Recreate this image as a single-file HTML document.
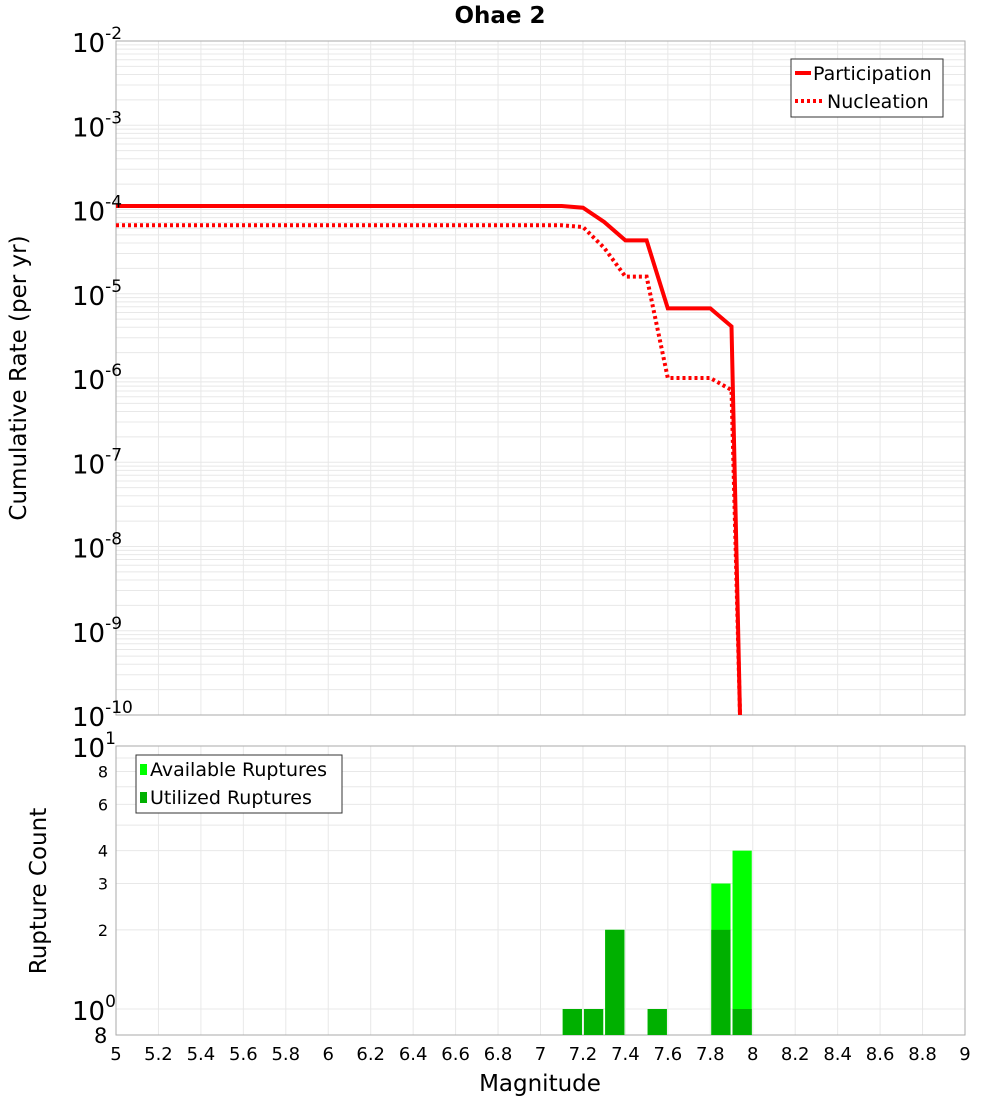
<!DOCTYPE html>
<html><head><meta charset="utf-8"><style>
body{margin:0;background:#fff;font-family:"Liberation Sans","DejaVu Sans",sans-serif}
svg text{font-family:"DejaVu Sans","Liberation Sans",sans-serif}
</style></head><body>
<svg id="c" width="1000" height="1100" xmlns="http://www.w3.org/2000/svg"></svg>
<script>
const mags=[5.0,5.1,5.2,5.3,5.4,5.5,5.6,5.7,5.8,5.9,6.0,6.1,6.2,6.3,6.4,6.5,6.6,6.7,6.8,6.9,7.0,7.1,7.2,7.3,7.4,7.5,7.6,7.7,7.8,7.9,7.94];
const participation=[1.1e-4,1.1e-4,1.1e-4,1.1e-4,1.1e-4,1.1e-4,1.1e-4,1.1e-4,1.1e-4,1.1e-4,1.1e-4,1.1e-4,1.1e-4,1.1e-4,1.1e-4,1.1e-4,1.1e-4,1.1e-4,1.1e-4,1.1e-4,1.1e-4,1.1e-4,1.05e-4,7.1e-5,4.3e-5,4.3e-5,6.7e-6,6.7e-6,6.7e-6,4.1e-6,1e-10];
const nucleation=[6.5e-5,6.5e-5,6.5e-5,6.5e-5,6.5e-5,6.5e-5,6.5e-5,6.5e-5,6.5e-5,6.5e-5,6.5e-5,6.5e-5,6.5e-5,6.5e-5,6.5e-5,6.5e-5,6.5e-5,6.5e-5,6.5e-5,6.5e-5,6.5e-5,6.5e-5,6.2e-5,3.5e-5,1.6e-5,1.6e-5,1.0e-6,1.0e-6,1.0e-6,7.2e-7,1e-10];
const binCenters=[7.15,7.25,7.35,7.55,7.85,7.95];
const available=[1,1,2,1,3,4];
const utilized=[1,1,2,1,2,1];
const xTicks=[5,5.2,5.4,5.6,5.8,6,6.2,6.4,6.6,6.8,7,7.2,7.4,7.6,7.8,8,8.2,8.4,8.6,8.8,9];
const topExps=[-2,-3,-4,-5,-6,-7,-8,-9,-10];
const botTicks=[2,3,4,6,8];

const S=document.getElementById('c'),NS='http://www.w3.org/2000/svg';
function el(t,a,p){const e=document.createElementNS(NS,t);for(const k in a)e.setAttribute(k,a[k]);(p||S).appendChild(e);return e;}
const L=116,R=965,T1=41,B1=715,T2=746,B2=1035;
const X=m=>L+(m-5)/4*(R-L);
const Y1=v=>T1+(-2-Math.log10(v))*(B1-T1)/8;
const Y2=v=>1009-Math.log10(v)*263;

for(let e=-10;e<-2;e++)for(let k=1;k<10;k++){const y=Y1(k*Math.pow(10,e));const g=el('line',{x1:L,x2:R,y1:y,y2:y,stroke:'#e8e8e8','stroke-width':1});}
xTicks.forEach(m=>{el('line',{x1:X(m),x2:X(m),y1:T1,y2:B1,stroke:'#e8e8e8'});el('line',{x1:X(m),x2:X(m),y1:T2,y2:B2,stroke:'#e8e8e8'});});
for(let v=1;v<=10;v++){const y=Y2(v);if(y>=T2&&y<=B2)el('line',{x1:L,x2:R,y1:y,y2:y,stroke:'#e8e8e8'});}
el('rect',{x:L,y:T1,width:R-L,height:B1-T1,fill:'none',stroke:'#aaa',});
el('rect',{x:L,y:T2,width:R-L,height:B2-T2,fill:'none',stroke:'#aaa',});

function path(arr){return arr.map((v,i)=>(i?'L':'M')+X(mags[i]).toFixed(1)+','+Math.min(Y1(v),B1).toFixed(1)).join(' ');}
const p1=el('path',{d:path(participation),fill:'none',stroke:'#ff0000','stroke-width':4});

const p2=el('path',{d:path(nucleation),fill:'none',stroke:'#ff0000','stroke-width':4,'stroke-dasharray':'3,3'});


const bw=X(5.1)-X(5)-2;
binCenters.forEach((c,i)=>{
 const x=X(c-0.05)+1;
 const ya=Y2(available[i]);const a=el('rect',{x:x,y:ya,width:bw,height:B2-ya,fill:'#00ff00'});
 
 const yu=Y2(utilized[i]);const u=el('rect',{x:x,y:yu,width:bw,height:B2-yu,fill:'#00b000'});
 
});

topExps.forEach(e=>{const y=Y1(Math.pow(10,e));const t=el('text',{x:72,y:y+11,'font-size':26,fill:'#000'});t.innerHTML='10<tspan dy="-13" font-size="17">'+e+'</tspan>';});
botTicks.forEach(v=>{const t=el('text',{x:108,y:Y2(v)+6,'font-size':16,'text-anchor':'end'});t.textContent=v;});
[[1,'0',1009],[10,'1',746]].forEach(([v,e,y])=>{const t=el('text',{x:72,y:y+11,'font-size':26});t.innerHTML='10<tspan dy="-13" font-size="17">'+e+'</tspan>';});
{const t=el('text',{x:94,y:1043,'font-size':21});t.textContent='8';}
xTicks.forEach(m=>{const t=el('text',{x:X(m),y:1060,'font-size':18,'text-anchor':'middle'});t.textContent=String(m);});

el('text',{x:540,y:1091,'font-size':23,'text-anchor':'middle',}).textContent='Magnitude';
el('text',{x:0,y:0,'font-size':23,'text-anchor':'middle',transform:'translate(26,378) rotate(-90)',}).textContent='Cumulative Rate (per yr)';
el('text',{x:0,y:0,'font-size':23,'text-anchor':'middle',transform:'translate(46,891) rotate(-90)',}).textContent='Rupture Count';
el('text',{x:500,y:23,'font-size':23,'font-weight':'bold','text-anchor':'middle',}).textContent='Ohae 2';

const lg=el('g',{});
el('rect',{x:791,y:59,width:152,height:58,fill:'#fff',stroke:'#333'},lg);
el('line',{x1:795,x2:811,y1:73,y2:73,stroke:'#f00','stroke-width':4},lg);
el('line',{x1:795,x2:823,y1:101,y2:101,stroke:'#f00','stroke-width':4,'stroke-dasharray':'3,3'},lg);
el('text',{x:813,y:80,'font-size':19},lg).textContent='Participation';
el('text',{x:827,y:108,'font-size':19},lg).textContent='Nucleation';
const lg2=el('g',{});
el('rect',{x:136,y:755,width:206,height:58,fill:'#fff',stroke:'#333'},lg2);
el('rect',{x:140,y:764,width:7,height:11,fill:'#00ff00'},lg2);
el('rect',{x:140,y:792,width:7,height:11,fill:'#00b000'},lg2);
el('text',{x:150,y:776,'font-size':19},lg2).textContent='Available Ruptures';
el('text',{x:150,y:804,'font-size':19},lg2).textContent='Utilized Ruptures';
</script>
</body></html>
